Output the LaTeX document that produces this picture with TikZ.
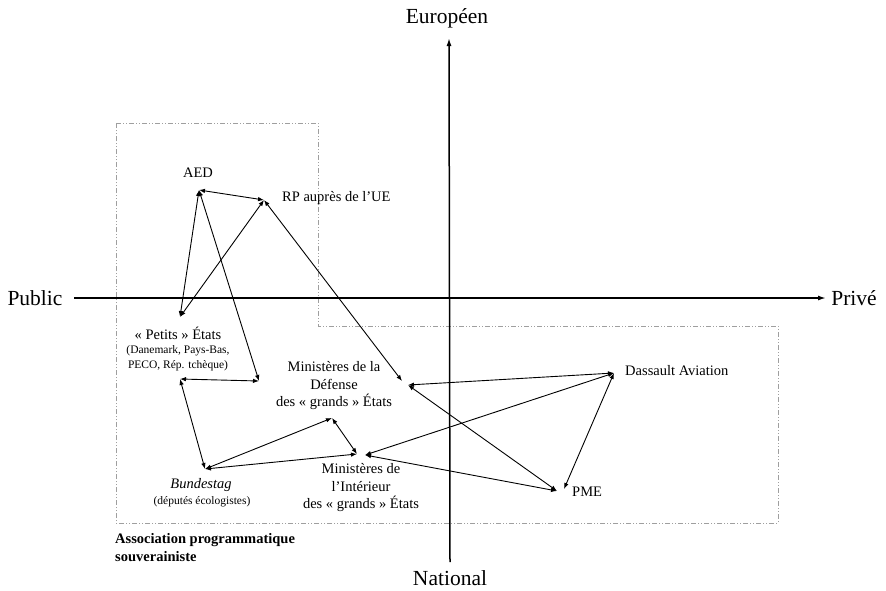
\documentclass[tikz,border=0pt]{standalone}
\usepackage{fontspec}
\setmainfont{Liberation Serif}
\usepackage{tikz}
\usetikzlibrary{positioning,arrows.meta,calc}
\tikzset{axes/.style={-{Latex[length=8pt,width=5pt]},line width=1.5pt}}
\tikzset{link/.style={{Latex[length=6pt,width=4.5pt]}-{Latex[length=6pt,width=4.5pt]},line width=0.9pt}}
\tikzset{zone/.style={gray!75,line width=1pt,dash pattern=on 5pt off 2pt on 1pt off 2pt on 1pt off 2pt}}
\tikzset{axislabel/.style={font=\fontsize{21.5}{25}\selectfont}}
\tikzset{actor/.style={font=\fontsize{14.5}{17.5}\selectfont,align=center,inner sep=0pt}}
\tikzset{small/.style={font=\fontsize{11.5}{15}\selectfont,align=center,inner sep=0pt}}

\begin{document}
\begin{tikzpicture}[x=1pt,y=-1pt]
	\useasboundingbox (0,0) rectangle (886,590);

	%% Zone of the sovereignist coalition
	\draw[zone] (116,123) -- (318,123) -- (318,326) -- (778,326) -- (778,523) -- (116,523) -- cycle;
	\node[anchor=north west,align=left,inner sep=0pt,font=\fontsize{14.5}{18}\bfseries\selectfont] (assoc) at (115,533) {Association programmatique\\souverainiste};

	%% Axes
	\node[axislabel] (public) at (35,298) {Public};
	\node[axislabel] (prive) at (854,298) {Privé};
	\node[axislabel] (europe) at (447,18) {Européen};
	\node[axislabel] (national) at (450,578) {National};
	\coordinate (xend) at (826,298);
	\coordinate (ystart) at (450,562);
	\coordinate (yend) at (449,38);
	\draw[axes] (public.east) ++(8,0) -- (xend);
	\draw[axes] (ystart) -- (yend);

	%% Actors
	\node[actor] (aedtxt) at (198,173) {AED};
	\node[actor,anchor=west] (rptxt) at (282,198) {RP auprès de l'UE};
	\node[actor] (pettxt) at (178,333) {« Petits » États};
	\node[small] (petsub) at (178,358) {(Danemark, Pays-Bas,\\PECO, Rép. tchèque)};
	\node[actor] (deftxt) at (334,386) {Ministères de la\\Défense\\des « grands » États};
	\node[actor] (bundtxt) at (201,485) {\itshape Bundestag};
	\node[small] (bundsub) at (202,502) {(députés écologistes)};
	\node[actor] (inttxt) at (361,488) {Ministères de\\l'Intérieur\\des « grands » États};
	\node[actor,anchor=west] (dasstxt) at (625,371) {Dassault Aviation};
	\node[actor,anchor=west] (pmetxt) at (572,492) {PME};

	%% Anchor points of the links
	\coordinate (aed) at (199,190);
	\coordinate (rp) at (264,200);
	\coordinate (pet) at (180,317);
	\coordinate (petR) at (259,381);
	\coordinate (petL) at (180,379);
	\coordinate (bund) at (205,469);
	\coordinate (defB) at (332,418);
	\coordinate (intL) at (357,454);
	\coordinate (intR) at (365,455);
	\coordinate (defL) at (402,381);
	\coordinate (defR) at (408,385);
	\coordinate (dass) at (614,373);
	\coordinate (pmeL) at (557,491);
	\coordinate (pmeR) at (564,489);

	\draw[link] (aed) -- (rp);
	\draw[link] (aed) -- (pet);
	\draw[link] (rp) -- (pet);
	\draw[link] (aed) -- (petR);
	\draw[link] (petR) -- (petL);
	\draw[link] (petL) -- (bund);
	\draw[link] (bund) -- (defB);
	\draw[link] (defB) -- (intL);
	\draw[link] (bund) -- (intL);
	\draw[link] (rp) -- (defL);
	\draw[link] (dass) -- (defR);
	\draw[link] (defR) -- (pmeL);
	\draw[link] (dass) -- (intR);
	\draw[link] (dass) -- (pmeR);
	\draw[link] (pmeL) -- (intR);
\end{tikzpicture}
\end{document}
